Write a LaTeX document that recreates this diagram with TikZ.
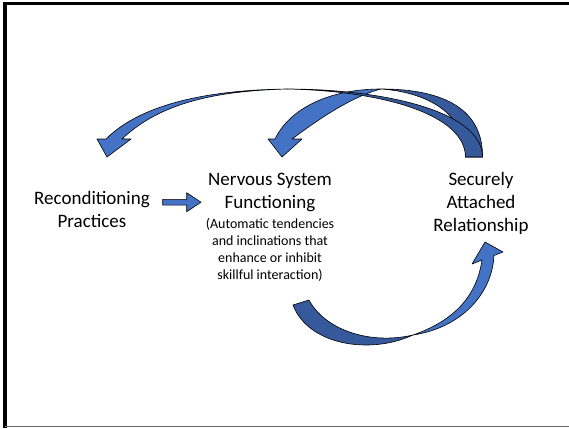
\documentclass[tikz,border=0pt]{standalone}
\usepackage{fontspec}
\setmainfont{Carlito}
\usetikzlibrary{positioning}
\definecolor{fbblue}{HTML}{4472C4}
\definecolor{fbdark}{HTML}{36599B}
\tikzset{
  fb/label/.style={align=center, inner sep=0pt, anchor=north, font=\fontsize{19}{23}\selectfont},
  fb/note/.style={align=center, inner sep=0pt, font=\fontsize{14}{17}\selectfont},
  fb/block/.style={draw=black, line width=0.6pt, fill=fbblue, line join=round},
  fb/blockdark/.style={fb/block, fill=fbdark},
  fb/frame/.style={line width=3.4pt}
}

\begin{document}
\begin{tikzpicture}[x=1pt, y=-1pt]
  \useasboundingbox (0,0) rectangle (569,428);
  \draw[fb/frame] (5,428) -- (5,3.4) -- (569,3.4);
  \draw[black!60, line width=1pt] (5,426.8) -- (569,426.8);

  \node[fb/label] (recond) at (92,188.5) {\strut Reconditioning\\Practices};
  \node[fb/label] (nsf) at (270,169.5) {\strut Nervous System\\Functioning\strut};
  \node[fb/note, below=0.5pt of nsf] (nsfnote) {\strut (Automatic tendencies\\and inclinations that\\enhance or inhibit\\skillful interaction)};
  \node[fb/label] (secure) at (481,169.5) {\strut Securely\\Attached\\Relationship};

  \coordinate (fwdtail) at (162.7,202.2);
  \coordinate (fwdtip) at (201,202.2);
  \draw[fb/block] (fwdtail) ++(0,-2.9) -- ++(24,0) -- ++(0,-6.6) -- (fwdtip)
    -- ++(-14.3,9.5) -- ++(0,-6.6) -- ++(-24,0) -- cycle;

  \coordinate (tailout) at (482.5,157);
  \coordinate (tailin) at (465.5,157);
  \coordinate (bigtop) at (287,89);
  \coordinate (bigtip) at (107,157);
  \coordinate (smalltop) at (381,89);
  \coordinate (smalltip) at (282,157);
  \coordinate (botcross) at (413,335);
  \coordinate (bottip) at (485,242);

  \draw[fb/block] (275,139) .. controls (290,108) and (330,89) .. (smalltop)
    .. controls (350,97) and (315,122) .. (292,139) -- (302,139) -- (smalltip) -- (268,139) -- cycle;
  \draw[fb/blockdark] (smalltop) .. controls (445,89) and (483,110) .. (tailout) -- (tailin)
    .. controls (466,112) and (425,92) .. (smalltop) -- cycle;

  \draw[fb/block] (106,139) .. controls (140,105) and (205,90) .. (bigtop)
    .. controls (215,91) and (160,103) .. (122,139) -- (131,139) -- (bigtip) -- (97,139) -- cycle;
  \draw[fb/blockdark] (bigtop) .. controls (380,89) and (482,110) .. (tailout) -- (tailin)
    .. controls (465,115) and (385,91) .. (bigtop) -- cycle;

  \draw[fb/blockdark] (293,305) .. controls (308,345) and (370,355) .. (botcross)
    .. controls (370,345) and (325,330) .. (309,300) -- cycle;
  \draw[fb/block] (botcross) .. controls (460,328) and (492,295) .. (494,255.5) -- (503,252)
    -- (bottip) -- (472,264) -- (482,260) .. controls (476,300) and (450,322) .. (botcross) -- cycle;
\end{tikzpicture}
\end{document}
